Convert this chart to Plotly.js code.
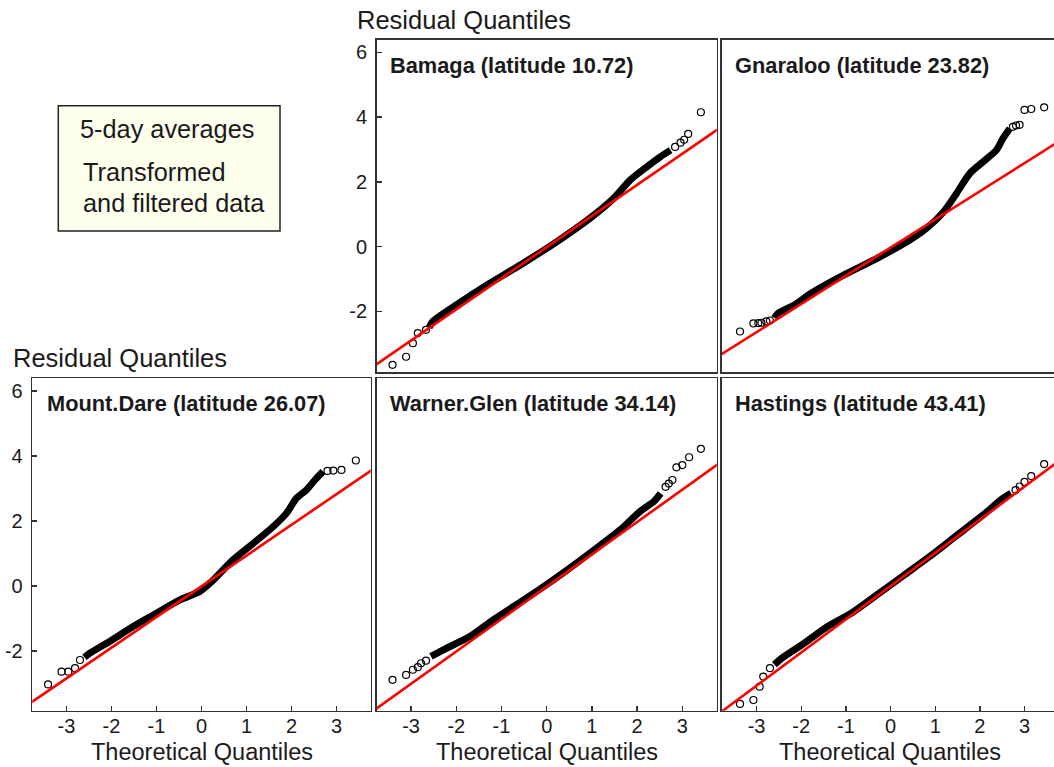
<!DOCTYPE html>
<html>
<head>
<meta charset="utf-8">
<script src="https://cdn.plot.ly/plotly-3.0.1.min.js"></script>
<style>html,body{margin:0;padding:0;background:#fff;}#chart{width:1054px;height:767px;}</style>
</head>
<body>
<div id="chart"></div>
<script>
// ---------- data ----------
const stationNames = ["Bamaga (latitude 10.72)", "Gnaraloo (latitude 23.82)", "Mount.Dare (latitude 26.07)", "Warner.Glen (latitude 34.14)", "Hastings (latitude 43.41)"];
const xTicks = [-3, -2, -1, 0, 1, 2, 3];
const yTicks = [-2, 0, 2, 4, 6];
const lineX = [-4, 4];

// Bamaga
const bamagaCoreX = [-2.60, -2.52, -2.00, -1.26, -0.52, 0.22, 0.96, 1.48, 1.85, 2.22, 2.52, 2.74];
const bamagaCoreY = [-2.50, -2.31, -1.80, -1.13, -0.51, 0.15, 0.88, 1.49, 2.06, 2.47, 2.78, 2.98];
const bamagaTailX = [-3.41, -3.11, -2.96, -2.85, -2.67, 2.84, 2.96, 3.04, 3.13, 3.41];
const bamagaTailY = [-3.65, -3.40, -2.98, -2.67, -2.57, 3.08, 3.21, 3.30, 3.48, 4.15];
const bamagaLineY = [-3.86, 3.83];

// Gnaraloo
const gnaralooCoreX = [-2.60, -2.52, -2.15, -1.78, -1.04, -0.30, 0.44, 0.81, 1.19, 1.48, 1.78, 2.07, 2.37, 2.52, 2.67];
const gnaralooCoreY = [-2.20, -2.06, -1.80, -1.44, -0.87, -0.36, 0.21, 0.57, 1.08, 1.65, 2.27, 2.62, 2.98, 3.35, 3.65];
const gnaralooTailX = [-3.37, -3.07, -2.96, -2.89, -2.78, -2.70, 2.74, 2.81, 2.89, 3.00, 3.15, 3.44];
const gnaralooTailY = [-2.62, -2.37, -2.36, -2.35, -2.31, -2.28, 3.70, 3.74, 3.76, 4.22, 4.25, 4.30];
const gnaralooLineY = [-3.51, 3.45];

// Mount.Dare
const mountDareCoreX = [-2.60, -2.48, -2.04, -1.52, -1.00, -0.48, -0.04, 0.26, 0.70, 1.15, 1.59, 1.89, 2.11, 2.33, 2.52, 2.70];
const mountDareCoreY = [-2.20, -2.07, -1.71, -1.25, -0.84, -0.43, -0.17, 0.18, 0.80, 1.31, 1.82, 2.24, 2.70, 2.95, 3.26, 3.52];
const mountDareTailX = [-3.41, -3.11, -2.96, -2.81, -2.70, 2.80, 2.93, 3.11, 3.43];
const mountDareTailY = [-3.03, -2.64, -2.64, -2.53, -2.28, 3.54, 3.55, 3.57, 3.86];
const mountDareLineY = [-3.79, 3.77];

// Warner.Glen
const warnerCoreX = [-2.56, -2.22, -1.70, -1.19, -0.67, -0.15, 0.44, 1.04, 1.63, 2.07, 2.37, 2.52];
const warnerCoreY = [-2.17, -1.92, -1.56, -1.05, -0.58, -0.10, 0.48, 1.10, 1.73, 2.30, 2.60, 2.85];
const warnerTailX = [-3.41, -3.11, -2.96, -2.85, -2.78, -2.67, 2.63, 2.70, 2.78, 2.87, 3.00, 3.15, 3.41];
const warnerTailY = [-2.89, -2.74, -2.58, -2.50, -2.38, -2.30, 3.05, 3.15, 3.26, 3.65, 3.72, 3.96, 4.22];
const warnerLineY = [-4.01, 3.96];

// Hastings
const hastingsCoreX = [-2.60, -2.44, -1.93, -1.41, -0.89, -0.30, 0.30, 0.89, 1.48, 2.07, 2.52, 2.70];
const hastingsCoreY = [-2.42, -2.23, -1.76, -1.25, -0.85, -0.27, 0.33, 0.92, 1.55, 2.18, 2.70, 2.85];
const hastingsTailX = [-3.37, -3.07, -2.93, -2.85, -2.70, 2.80, 2.89, 3.00, 3.15, 3.44];
const hastingsTailY = [-3.63, -3.51, -3.10, -2.79, -2.53, 2.95, 3.06, 3.20, 3.38, 3.75];
const hastingsLineY = [-4.09, 4.08];

// ---------- layout helpers ----------
const W = 1054, H = 767;
const px = v => v / W;
const py = v => 1 - v / H;
const FONT = '"Liberation Sans", Arial, Helvetica, sans-serif';
const TXT = '#1a1a1a';

const cols = [[px(32.3), px(370.7)], [px(376.7), px(716.7)], [px(721.7), 1]];
const rows = { top: [py(372.3), py(40)], bottom: [py(710.7), py(378.3)] };
const xRanges = [[-3.76, 3.76], [-3.76, 3.76], [-3.78, 3.66]];
const yRanges = { top: [-3.88, 6.38], bottom: [-3.84, 6.39] };

const panels = [
  { name: stationNames[0], cx: bamagaCoreX, cy: bamagaCoreY, tx: bamagaTailX, ty: bamagaTailY, ly: bamagaLineY, col: 1, row: 'top', xlab: false, ylab: true, right: true, tl: 388 },
  { name: stationNames[1], cx: gnaralooCoreX, cy: gnaralooCoreY, tx: gnaralooTailX, ty: gnaralooTailY, ly: gnaralooLineY, col: 2, row: 'top', xlab: false, ylab: false, right: false, tl: 733 },
  { name: stationNames[2], cx: mountDareCoreX, cy: mountDareCoreY, tx: mountDareTailX, ty: mountDareTailY, ly: mountDareLineY, col: 0, row: 'bottom', xlab: true, ylab: true, right: true, tl: 44.5 },
  { name: stationNames[3], cx: warnerCoreX, cy: warnerCoreY, tx: warnerTailX, ty: warnerTailY, ly: warnerLineY, col: 1, row: 'bottom', xlab: true, ylab: false, right: true, tl: 388 },
  { name: stationNames[4], cx: hastingsCoreX, cy: hastingsCoreY, tx: hastingsTailX, ty: hastingsTailY, ly: hastingsLineY, col: 2, row: 'bottom', xlab: true, ylab: false, right: false, tl: 733 }
];

const data = [];
const layout = {
  width: W, height: H,
  margin: { l: 0, r: 0, t: 0, b: 0, pad: 0 },
  paper_bgcolor: '#ffffff', plot_bgcolor: '#ffffff',
  showlegend: false,
  font: { family: FONT, color: TXT, size: 20 },
  annotations: [], shapes: []
};

const markerStyle = { symbol: 'circle-open', size: 7, color: '#000', line: { width: 1.2 } };

panels.forEach((p, i) => {
  const n = i + 1;
  const xa = 'x' + (n === 1 ? '' : n), ya = 'y' + (n === 1 ? '' : n);
  // dense band of overlapping points
  data.push({ type: 'scatter', mode: 'lines', x: p.cx, y: p.cy, xaxis: xa, yaxis: ya,
    line: { color: '#000', width: 7, shape: 'spline', smoothing: 0.7 },
    hoverinfo: 'skip' });
  // sparse tail points
  data.push({ type: 'scatter', mode: 'markers', x: p.tx, y: p.ty, xaxis: xa, yaxis: ya,
    marker: markerStyle, hoverinfo: 'skip' });
  // reference line (qqline)
  data.push({ type: 'scatter', mode: 'lines', x: lineX, y: p.ly, xaxis: xa, yaxis: ya,
    line: { color: '#ff0000', width: 2.6 }, hoverinfo: 'skip' });

  const xKey = 'xaxis' + (n === 1 ? '' : n), yKey = 'yaxis' + (n === 1 ? '' : n);
  layout[xKey] = {
    domain: cols[p.col], range: xRanges[p.col], anchor: ya,
    showgrid: false, zeroline: false,
    showline: true, mirror: true, linecolor: '#333', linewidth: 1.6,
    ticks: p.xlab ? 'inside' : '', ticklen: 5, tickwidth: 1.3, tickcolor: '#333',
    tickvals: xTicks, ticktext: xTicks.map(v => v < 0 ? '-' + Math.abs(v) : String(v)),
    showticklabels: p.xlab, ticklabelstandoff: -3,
    tickfont: { family: FONT, size: 20, color: TXT }, fixedrange: true
  };
  layout[yKey] = {
    domain: rows[p.row], range: yRanges[p.row], anchor: xa,
    showgrid: false, zeroline: false,
    showline: true, mirror: p.right, linecolor: '#333', linewidth: 1.6,
    ticks: p.ylab ? 'inside' : '', ticklen: 5, tickwidth: 1.3, tickcolor: '#333',
    tickvals: yTicks, ticktext: yTicks.map(v => v < 0 ? '-' + Math.abs(v) : String(v)),
    showticklabels: p.ylab, ticklabelstandoff: 4,
    tickfont: { family: FONT, size: 20, color: TXT }, fixedrange: true
  };
  // panel title
  layout.annotations.push({ xref: 'paper', yref: 'paper', x: px(p.tl), y: py(p.row === 'top' ? 65 : 403),
    xanchor: 'left', yanchor: 'middle', showarrow: false, text: '<b>' + p.name + '</b>',
    font: { family: FONT, size: 21.8, color: TXT } });
  if (p.xlab) {
    layout.annotations.push({ xref: 'paper', yref: 'paper', x: (cols[p.col][0] + (p.col === 2 ? px(1059) : cols[p.col][1])) / 2,
      y: py(751.5), xanchor: 'center', yanchor: 'middle', showarrow: false, text: 'Theoretical Quantiles',
      font: { family: FONT, size: 23.5, color: TXT } });
  }
});

// y-axis titles (placed above the axes, R mtext style)
layout.annotations.push({ xref: 'paper', yref: 'paper', x: px(355), y: py(20), xanchor: 'left', yanchor: 'middle',
  showarrow: false, text: 'Residual Quantiles', font: { family: FONT, size: 25.5, color: TXT } });
layout.annotations.push({ xref: 'paper', yref: 'paper', x: px(11), y: py(358), xanchor: 'left', yanchor: 'middle',
  showarrow: false, text: 'Residual Quantiles', font: { family: FONT, size: 25.5, color: TXT } });

// information box
layout.shapes.push({ type: 'rect', xref: 'paper', yref: 'paper', x0: px(58.3), x1: px(280), y0: py(231), y1: py(105.7),
  fillcolor: '#ffffee', line: { color: '#222', width: 1.5 }, layer: 'below' });
layout.annotations.push({ xref: 'paper', yref: 'paper', x: px(78), y: py(129), xanchor: 'left', yanchor: 'middle',
  showarrow: false, text: '5-day averages', font: { family: FONT, size: 25.3, color: TXT } });
layout.annotations.push({ xref: 'paper', yref: 'paper', x: px(80.5), y: py(172), xanchor: 'left', yanchor: 'middle',
  showarrow: false, text: 'Transformed', font: { family: FONT, size: 25.3, color: TXT } });
layout.annotations.push({ xref: 'paper', yref: 'paper', x: px(80.5), y: py(203), xanchor: 'left', yanchor: 'middle',
  showarrow: false, text: 'and filtered data', font: { family: FONT, size: 25.3, color: TXT } });

Plotly.newPlot('chart', data, layout, { displayModeBar: false, staticPlot: true });
</script>
</body>
</html>
